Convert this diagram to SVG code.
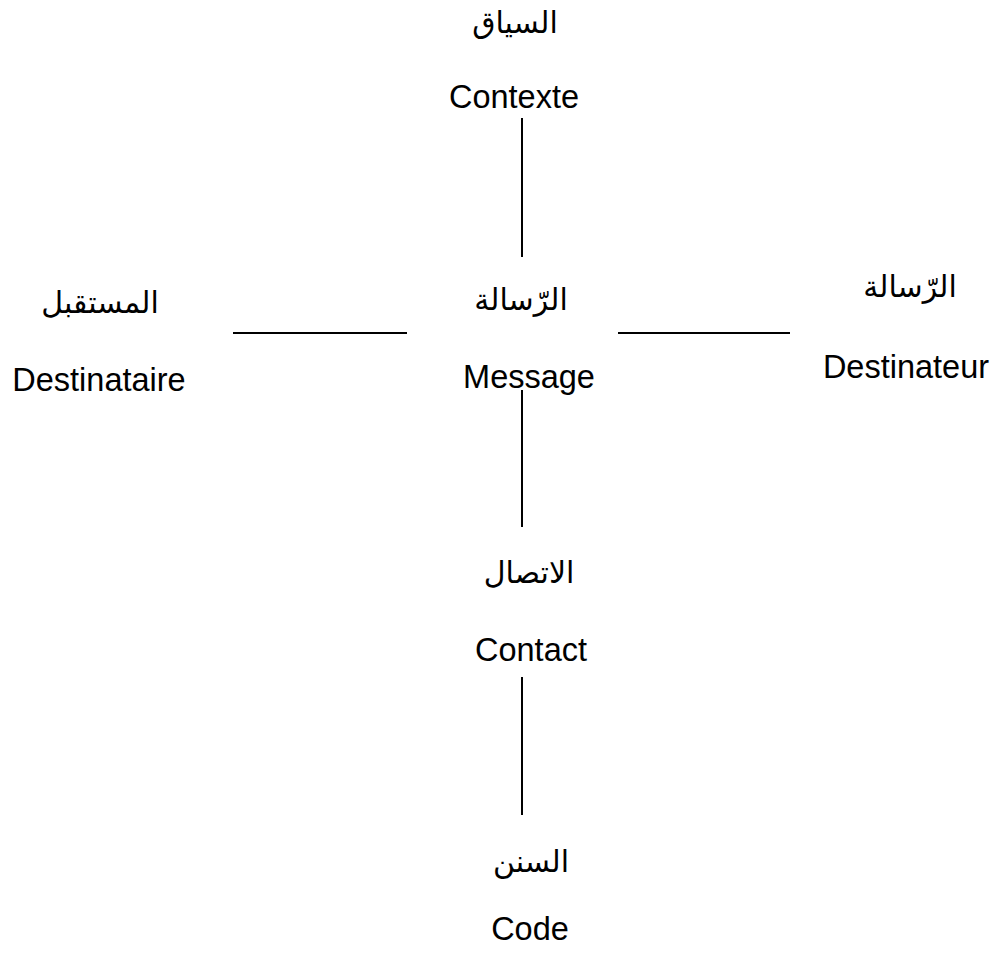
<svg xmlns="http://www.w3.org/2000/svg" width="1001" height="954" viewBox="0 0 1001 954">
<style>
  .lat { font-family: "Liberation Sans", Arial, sans-serif; font-size: 32.5px; fill: #000; text-anchor: middle; }
  .ar { font-family: "Liberation Sans", "DejaVu Sans", "Noto Sans", sans-serif; font-size: 30px; fill: #000; text-anchor: middle; direction: rtl; }
  .conn line { stroke: #000; stroke-width: 2; }
</style>
<rect width="1001" height="954" fill="#fff"/>
<g id="context">
  <text class="ar" x="515" y="33">السياق</text>
  <text class="lat" x="514" y="108">Contexte</text>
</g>
<g id="receiver">
  <text class="ar" x="100" y="313">المستقبل</text>
  <text class="lat" x="99" y="391">Destinataire</text>
</g>
<g id="message">
  <text class="ar" x="521" y="310">الرّسالة</text>
  <text class="lat" x="529" y="388">Message</text>
</g>
<g id="sender">
  <text class="ar" x="910" y="297">الرّسالة</text>
  <text class="lat" x="906" y="378">Destinateur</text>
</g>
<g id="contact">
  <text class="ar" x="529" y="583">الاتصال</text>
  <text class="lat" x="531" y="661">Contact</text>
</g>
<g id="code">
  <text class="ar" x="531" y="872">السنن</text>
  <text class="lat" x="530" y="940">Code</text>
</g>
<g id="connectors" class="conn">
  <line x1="522" y1="118" x2="522" y2="257"/>
  <line x1="233" y1="333" x2="407" y2="333"/>
  <line x1="618" y1="333" x2="790" y2="333"/>
  <line x1="522" y1="390" x2="522" y2="527"/>
  <line x1="522" y1="677" x2="522" y2="815"/>
</g>
</svg>
